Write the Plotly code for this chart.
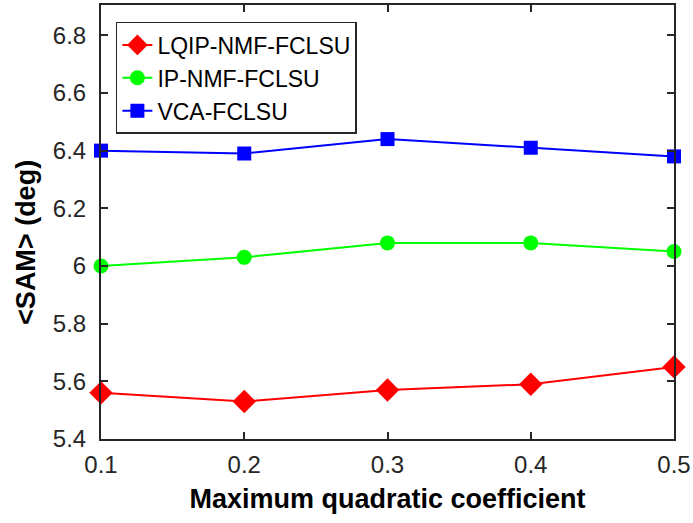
import plotly.graph_objects as go

x = [0.1, 0.2, 0.3, 0.4, 0.5]
lqip = [5.56, 5.53, 5.57, 5.59, 5.65]
ip = [6.00, 6.03, 6.08, 6.08, 6.05]
vca = [6.40, 6.39, 6.44, 6.41, 6.38]
xticks = [0.1, 0.2, 0.3, 0.4, 0.5]
xticklabels = ["0.1", "0.2", "0.3", "0.4", "0.5"]
yticks = [5.4, 5.6, 5.8, 6.0, 6.2, 6.4, 6.6, 6.8]
yticklabels = ["5.4", "5.6", "5.8", "6", "6.2", "6.4", "6.6", "6.8"]

FONT = "Liberation Sans, Arial"

fig = go.Figure()
fig.add_trace(go.Scatter(x=x, y=lqip, name="LQIP-NMF-FCLSU", mode="lines+markers",
                         line=dict(color="#ff0000", width=2),
                         marker=dict(symbol="diamond", size=18, color="#ff0000"),
                         cliponaxis=False))
fig.add_trace(go.Scatter(x=x, y=ip, name="IP-NMF-FCLSU", mode="lines+markers",
                         line=dict(color="#00ff00", width=2),
                         marker=dict(symbol="circle", size=15, color="#00ff00"),
                         cliponaxis=False))
fig.add_trace(go.Scatter(x=x, y=vca, name="VCA-FCLSU", mode="lines+markers",
                         line=dict(color="#0000ff", width=2),
                         marker=dict(symbol="square", size=14, color="#0000ff"),
                         cliponaxis=False))

axis_common = dict(showgrid=False, zeroline=False, showline=True, linecolor="#262626",
                   linewidth=2, mirror="ticks", ticks="inside", ticklen=7,
                   tickcolor="#262626", tickwidth=1.5, automargin=False,
                   tickfont=dict(family=FONT, size=24, color="#262626"))
fig.update_xaxes(range=[0.1, 0.5], tickvals=xticks, ticktext=xticklabels,
                 ticklabelstandoff=3,
                 title=dict(text="<b>Maximum quadratic coefficient</b>", standoff=12,
                            font=dict(family=FONT, size=27, color="#000000")),
                 **axis_common)
fig.update_yaxes(range=[5.4, 6.905], tickvals=yticks, ticktext=yticklabels,
                 ticklabelstandoff=8,
                 **axis_common)

fig.add_annotation(text="<b>&lt;SAM&gt; (deg)</b>", xref="paper", yref="paper",
                   x=-0.131, y=0.454, xanchor="center", yanchor="middle",
                   textangle=-90, showarrow=False,
                   font=dict(family=FONT, size=27, color="#000000"))

fig.update_layout(
    width=693, height=523,
    margin=dict(l=101, r=19, t=5, b=84),
    paper_bgcolor="white", plot_bgcolor="white",
    showlegend=True,
    legend=dict(x=0.026, y=0.961, xanchor="left", yanchor="top",
                bordercolor="#262626", borderwidth=1.5, bgcolor="white",
                font=dict(family=FONT, size=23, color="#000000"),
                tracegroupgap=0, itemsizing="trace"),
)

fig.write_html("out.html", config={"displayModeBar": False},
               post_script="document.body.style.margin='0px';")
